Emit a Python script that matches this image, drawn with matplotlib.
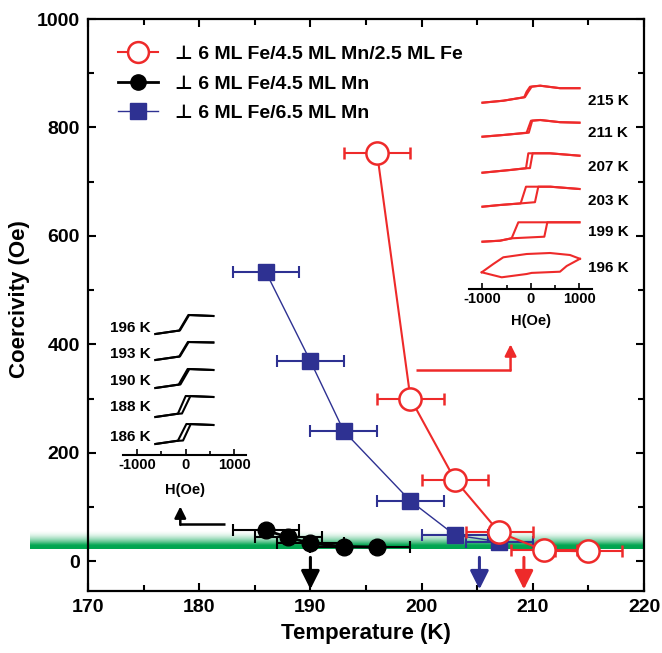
import numpy as np
import matplotlib
matplotlib.use('Agg')
import matplotlib.pyplot as plt
from matplotlib.lines import Line2D
from matplotlib.ticker import MultipleLocator

plt.rcParams['font.family'] = ['Liberation Sans', 'DejaVu Sans']
plt.rcParams['font.weight'] = 'bold'
plt.rcParams['axes.labelweight'] = 'bold'

RED = '#ee2a2a'
BLUE = '#2e3192'
GREEN = '#00a550'

# coercivity vs temperature
T_tri = [196, 199, 203, 207, 211, 215]
Hc_tri = [752, 300, 150, 53, 20, 18]
T_fe45 = [186, 188, 190, 193, 196]
Hc_fe45 = [57, 44, 33, 27, 26]
T_fe65 = [186, 190, 193, 199, 203, 207]
Hc_fe65 = [533, 369, 240, 111, 48, 36]
T_err = 3.0
Tc_arrows = [190, 205.2, 209.2]
labels = ['6 ML Fe/4.5 ML Mn/2.5 ML Fe', '6 ML Fe/4.5 ML Mn', '6 ML Fe/6.5 ML Mn']

# hysteresis loops, trilayer (right inset), H in Oe, M in arb. units
red_T = [215, 211, 207, 203, 199, 196]
red_asc_H = [[-1000, -570, -125, -55, 15, 190, 600, 1000],
             [-1000, -570, -45, 25, 190, 600, 1000],
             [-1000, -430, -124, -21, 34, 390, 1000],
             [-1000, -640, -213, 82, 151, 400, 1000],
             [-1000, -640, -399, 275, 337, 1000],
             [-1016, -604, -89, 14, 598, 736, 1010]]
red_asc_M = [[0, 2, 5.5, 11, 16, 17, 14.5, 14.5],
             [0, 1.7, 4, 16, 16.7, 14.5, 14],
             [0, 2.7, 4.4, 4.6, 19.4, 19.4, 17],
             [0, 1.7, 3.3, 4.5, 20, 20, 17.7],
             [0, 1, 3.4, 5, 19.4, 19.4],
             [0, -5, -1.7, -0.6, 0.6, 6.3, 13.5]]
red_dsc_H = [[1000, 600, 190, -20, -90, -140, -570, -1000],
             [1000, 600, 190, 0, -90, -570, -1000],
             [1000, 390, -55, -103, -430, -1000],
             [1000, 400, -103, -213, -640, -1000],
             [1000, -261, -399, -640, -1000],
             [1010, 804, 392, -89, -571, -777, -1016]]
red_dsc_M = [[14.5, 14.5, 17, 16, 11, 5.5, 2, 0],
             [14, 14.5, 16.7, 16, 4, 1.7, 0],
             [17, 19.4, 19.4, 4.4, 2.7, 0],
             [17.7, 20, 20, 3.3, 1.7, 0],
             [19.4, 19.4, 3.4, 1, 0],
             [13.5, 17.3, 19.3, 18.3, 15, 8.3, 0]]

# hysteresis loops, bilayer (left inset)
blk_T = [196, 193, 190, 188, 186]
blk_asc_H = [[-625, -200, -120, 70, 570],
             [-625, -200, -120, 60, 570],
             [-625, -200, -110, 75, 570],
             [-625, -200, -77, 97, 570],
             [-625, -200, -55, 104, 570]]
blk_asc_M = [[0, 3, 3.5, 19, 18],
             [0, 3, 3.5, 18, 17.5],
             [0, 3, 3.5, 19, 18],
             [0, 3, 3.5, 21, 20],
             [0, 3, 3.5, 20, 19]]
blk_dsc_H = [[570, 55, -135, -200, -625],
             [570, 45, -135, -200, -625],
             [570, 40, -145, -200, -625],
             [570, 0, -160, -200, -625],
             [570, 14, -160, -200, -625]]
blk_dsc_M = [[18, 19, 3.4, 3, 0],
             [17.5, 18, 3.4, 3, 0],
             [18, 19, 3.4, 3, 0],
             [20, 21, 3.4, 3, 0],
             [19, 20, 3.4, 3, 0]]

red_offsets = [186.3, 152.3, 116.3, 82.3, 47.3, 16.7]
red_label_y = [188, 156, 122, 88, 57, 21]
blk_offsets = [121, 95, 67, 38, 11]
blk_label_y = [127, 101, 74, 48, 18]

fig = plt.figure(figsize=(6.62, 6.53), dpi=100)
ax = fig.add_axes([88 / 662, (653 - 591) / 653, (644 - 88) / 662, (591 - 19) / 653])

ax.errorbar(T_fe65, Hc_fe65, xerr=T_err, color=BLUE, lw=1, marker='s', ms=11,
            mfc=BLUE, mec=BLUE, elinewidth=1.5, capsize=4, capthick=1.5, zorder=3)
ax.errorbar(T_fe45, Hc_fe45, xerr=T_err, color='k', lw=2, marker='o', ms=12,
            elinewidth=1.5, capsize=4, capthick=1.5, zorder=4)
ax.errorbar(T_tri, Hc_tri, xerr=T_err, color=RED, lw=1.5, marker='o', ms=16,
            mfc='white', mec=RED, mew=1.8, elinewidth=1.5, capsize=4, capthick=1.5, zorder=5)

ax.set_xlim(170, 220)
ax.set_ylim(-55, 1000)

# green band around the resolution limit
n = 60
grad = np.zeros((n, 1, 4))
rgb = matplotlib.colors.to_rgb(GREEN)
grad[:, 0, :3] = rgb
yy = np.linspace(0, 1, n)
alpha = np.clip(1 - (yy - 0.2) / 0.8, 0, 1) ** 1.8
alpha[yy < 0.2] = 1
grad[:, 0, 3] = alpha
ax.imshow(grad, extent=[164.8, 220, 23, 58], origin='lower', aspect='auto',
          clip_on=False, zorder=1, interpolation='bilinear')

# transition arrows
for t, c in zip(Tc_arrows, ['k', BLUE, RED]):
    ax.annotate('', xy=(t, -52), xytext=(t, 7),
                arrowprops=dict(arrowstyle='-|>', lw=2.2, color=c, mutation_scale=28,
                                shrinkA=0, shrinkB=0), zorder=6)

# pointers to insets
ax.plot([182.3, 178.3], [68, 68], color='k', lw=1.8, solid_capstyle='butt')
ax.annotate('', xy=(178.3, 101), xytext=(178.3, 67),
            arrowprops=dict(arrowstyle='-|>', lw=1.8, color='k', mutation_scale=17,
                            shrinkA=0, shrinkB=0))
ax.plot([199.5, 208.0], [353, 353], color=RED, lw=1.8, solid_capstyle='butt')
ax.annotate('', xy=(208.0, 400), xytext=(208.0, 352),
            arrowprops=dict(arrowstyle='-|>', lw=1.8, color=RED, mutation_scale=17,
                            shrinkA=0, shrinkB=0))

ax.xaxis.set_major_locator(MultipleLocator(10))
ax.xaxis.set_minor_locator(MultipleLocator(5))
ax.yaxis.set_major_locator(MultipleLocator(200))
ax.yaxis.set_minor_locator(MultipleLocator(100))
ax.tick_params(which='both', direction='in', top=True, right=True, width=1.5,
               labelsize=14, pad=6)
ax.tick_params(which='major', length=6)
ax.tick_params(which='minor', length=4)
for s in ax.spines.values():
    s.set_linewidth(1.6)
ax.set_xlabel('Temperature (K)', fontsize=16, labelpad=5)
ax.set_ylabel('Coercivity (Oe)', fontsize=16)
ax.yaxis.set_label_coords(-0.104, 0.51)

handles = [
    Line2D([], [], color=RED, lw=1.5, marker='o', ms=15, mfc='white', mec=RED, mew=1.8),
    Line2D([], [], color='k', lw=2, marker='o', ms=11),
    Line2D([], [], color=BLUE, lw=1, marker='s', ms=11, mfc=BLUE, mec=BLUE),
]
ax.legend(handles, ['\u22a5 ' + l for l in labels], loc='upper left',
          bbox_to_anchor=((118 - 88) / 556, 0.954), frameon=False, fontsize=14,
          handlelength=2.05, handletextpad=0.9, labelspacing=0.62,
          borderpad=0, borderaxespad=0)


def style_inset(axi):
    axi.set_facecolor('none')
    for k in ['left', 'top', 'right']:
        axi.spines[k].set_visible(False)
    axi.spines['bottom'].set_linewidth(1.5)
    axi.set_yticks([])
    axi.set_xticks([-1000, 0, 1000])
    axi.set_xticks([-500, 500], minor=True)
    axi.tick_params(which='both', direction='in', width=1.2, labelsize=10.5, pad=2)
    axi.tick_params(which='major', length=4)
    axi.tick_params(which='minor', length=3)
    axi.set_xticklabels(['-1000', '0', '1000'])


def draw_loops(axi, aH, aM, dH, dM, offsets, color):
    for h1, m1, h2, m2, off in zip(aH, aM, dH, dM, offsets):
        axi.plot(h1, np.array(m1) + off, color=color, lw=1.5)
        axi.plot(h2, np.array(m2) + off, color=color, lw=1.5)


# right inset
axr = fig.add_axes([469 / 662, (653 - 289) / 653, 123 / 662, 209 / 653])
style_inset(axr)
axr.set_xlim(-1278, 1258)
axr.set_ylim(0, 209)
draw_loops(axr, red_asc_H, red_asc_M, red_dsc_H, red_dsc_M, red_offsets, RED)
for t, y in zip(red_T, red_label_y):
    axr.text(1175, y, f'{t} K', fontsize=11, ha='left', va='center', clip_on=False)
axr.set_xlabel('H(Oe)', fontsize=10.5, labelpad=6)

# left inset
axl = fig.add_axes([123.3 / 662, (653 - 455) / 653, 122.4 / 662, 150 / 653])
style_inset(axl)
axl.set_xlim(-1287, 1237)
axl.set_ylim(0, 150)
draw_loops(axl, blk_asc_H, blk_asc_M, blk_dsc_H, blk_dsc_M, blk_offsets, 'k')
for t, y in zip(blk_T, blk_label_y):
    axl.text(-720, y, f'{t} K', fontsize=11, ha='right', va='center', clip_on=False)
axl.set_xlabel('H(Oe)', fontsize=10.5, labelpad=8)

fig.savefig('out.png', dpi=100)
